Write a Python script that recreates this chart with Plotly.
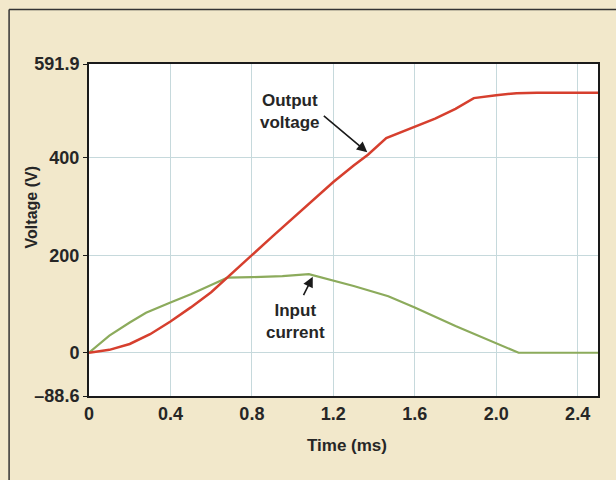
import plotly.graph_objects as go

# Time (ms)
t_out = [0, 0.1, 0.2, 0.3, 0.4, 0.5, 0.6, 0.7, 0.8, 0.9, 1.0, 1.1, 1.2, 1.3, 1.37, 1.46, 1.55, 1.7, 1.8, 1.89, 2.0, 2.1, 2.2, 2.35, 2.5]
v_out = [0, 6, 18, 38, 64, 93, 124, 161, 200, 238, 275, 312, 350, 384, 406, 440, 455, 480, 500, 522, 528, 532, 533, 533, 533]

t_in = [0, 0.1, 0.2, 0.28, 0.4, 0.5, 0.6, 0.68, 0.8, 0.95, 1.08, 1.2, 1.3, 1.47, 1.6, 1.8, 1.9, 2.0, 2.11, 2.3, 2.5]
i_in = [0, 35, 62, 82, 103, 120, 139, 154, 155, 157, 161, 148, 137, 116, 93, 55, 37, 20, 0, 0, 0]

x_ticks = [0, 0.4, 0.8, 1.2, 1.6, 2.0, 2.4]
x_labels = ["0", "0.4", "0.8", "1.2", "1.6", "2.0", "2.4"]
y_ticks = [-88.6, 0, 200, 400, 591.9]
y_labels = ["\u201388.6", "0", "200", "400", "591.9"]

FONT = "Liberation Sans, Arial, sans-serif"
TXT = "#262626"

fig = go.Figure()
fig.add_trace(go.Scatter(x=t_in, y=i_in, mode="lines", name="Input current",
                         line=dict(color="#8cab5c", width=2.2)))
fig.add_trace(go.Scatter(x=t_out, y=v_out, mode="lines", name="Output voltage",
                         line=dict(color="#d63f2e", width=2.5)))

fig.update_layout(
    width=616, height=480,
    margin=dict(l=89, r=18, t=64, b=84),
    paper_bgcolor="#f2e8cb",
    plot_bgcolor="#ffffff",
    showlegend=False,
    font=dict(family=FONT, size=18, color=TXT),
)
fig.update_xaxes(
    range=[0, 2.5], tickvals=x_ticks, ticktext=x_labels,
    showgrid=True, gridcolor="#c6d9dc", gridwidth=1,
    zeroline=False, showline=True, linecolor="#1a1a1a", linewidth=2, mirror=True,
    ticks="", tickfont=dict(family=FONT, size=18, color=TXT, weight="bold"),
)
fig.update_yaxes(
    range=[-88.6, 591.9], tickvals=y_ticks, ticktext=y_labels,
    showgrid=True, gridcolor="#c6d9dc", gridwidth=1,
    zeroline=False, showline=True, linecolor="#1a1a1a", linewidth=2, mirror=True,
    ticks="outside", ticklen=4, tickcolor="#1a1a1a",
    tickfont=dict(family=FONT, size=18, color=TXT, weight="bold"),
)

# Axis titles
fig.add_annotation(xref="paper", yref="paper", x=-0.114, y=0.568, text="Voltage (V)",
                   textangle=-90, showarrow=False, xanchor="center", yanchor="middle",
                   font=dict(family=FONT, size=16, color=TXT, weight="bold"))
fig.add_annotation(xref="paper", yref="paper", x=0.506, y=-0.148, text="Time (ms)",
                   showarrow=False, xanchor="center", yanchor="middle",
                   font=dict(family=FONT, size=17, color=TXT, weight="bold"))

# Text labels
fig.add_annotation(x=0.989, y=494, text="Output<br>voltage", showarrow=False,
                   font=dict(family=FONT, size=17, color=TXT, weight="bold"), align="center")
fig.add_annotation(x=1.013, y=65, text="Input<br>current", showarrow=False,
                   font=dict(family=FONT, size=17, color=TXT, weight="bold"), align="center")
# Arrows
fig.add_annotation(x=1.367, y=411, ax=1.146, ay=488, xref="x", yref="y", axref="x", ayref="y",
                   text="", showarrow=True, arrowhead=2, arrowsize=1.3, arrowwidth=1.6, arrowcolor="#1a1a1a")
fig.add_annotation(x=1.099, y=156, ax=1.05, ay=115, xref="x", yref="y", axref="x", ayref="y",
                   text="", showarrow=True, arrowhead=2, arrowsize=1.3, arrowwidth=1.6, arrowcolor="#1a1a1a")

# Outer panel frame (top and left edges)
fig.add_shape(type="line", xref="paper", yref="paper", x0=-0.157, y0=1.164, x1=1.1, y1=1.164,
              line=dict(color="#333333", width=1.5))
fig.add_shape(type="line", xref="paper", yref="paper", x0=-0.157, y0=-0.3, x1=-0.157, y1=1.164,
              line=dict(color="#333333", width=1.5))

fig.write_html("out.html")
